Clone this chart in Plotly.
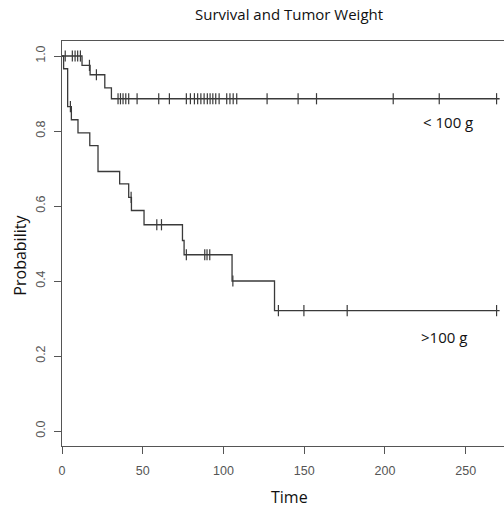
import numpy as np
import plotly.graph_objects as go

# Kaplan-Meier step data
low_times = [0, 12.4, 17.4, 26.5, 30.6, 271]
low_surv = [1.0, 0.975, 0.95, 0.915, 0.886, 0.886]
low_censor = [2, 6.4, 8.1, 9.7, 11.4, 17.0, 21.3, 34.7, 36.2, 37.8, 39.5, 41.3, 46.5,
              59.9, 66.5, 77, 79.5, 82, 84, 86, 88, 90, 91.7, 93.4, 95.2, 97.3,
              102, 104, 106, 108.2, 127, 146.2, 157.6, 205.1, 233.6, 269.1]

high_times = [0, 1.0, 3.5, 5.8, 9.9, 17.2, 22.3, 35.7, 41.3, 43.0, 50.8, 74.6, 75.6,
              105.3, 131.6, 271]
high_surv = [1.0, 0.966, 0.865, 0.830, 0.795, 0.761, 0.692, 0.659, 0.623, 0.588,
             0.550, 0.508, 0.470, 0.400, 0.321, 0.321]
high_censor = [5.2, 42.8, 58.7, 61.6, 77, 88.4, 89.8, 91.5, 105.8, 134, 149.8, 176.6, 269.1]

x_ticks = [0, 50, 100, 150, 200, 250]
y_ticks = [0.0, 0.2, 0.4, 0.6, 0.8, 1.0]
y_labels = ["0.0", "0.2", "0.4", "0.6", "0.8", "1.0"]

group_labels = ["< 100 g", ">100 g"]


def step_level(times, surv, t):
    idx = np.searchsorted(np.array(times), np.array(t), side="right") - 1
    return np.array(surv)[idx]


LC = "#3a3a3a"
fig = go.Figure()
for times, surv, cens in [(low_times, low_surv, low_censor), (high_times, high_surv, high_censor)]:
    fig.add_trace(go.Scatter(x=times, y=surv, mode="lines", line=dict(shape="hv", color=LC, width=1.3),
                             showlegend=False, hoverinfo="skip"))
    fig.add_trace(go.Scatter(x=cens, y=step_level(times, surv, cens), mode="markers",
                             marker=dict(symbol="line-ns", size=8, line=dict(color=LC, width=1.2)),
                             showlegend=False, hoverinfo="skip"))

label_font = dict(family="Open Sans", size=16, color="#111")
fig.update_layout(
    width=504, height=509,
    margin=dict(l=62, r=0, t=41, b=63),
    paper_bgcolor="white", plot_bgcolor="white",
    xaxis=dict(range=[0, 273.7], tickvals=x_ticks, ticks="outside", ticklen=7, tickcolor="#555",
               showline=True, linecolor="#555", linewidth=1.2, mirror=True, showgrid=False,
               zeroline=False, tickfont=dict(family="Liberation Sans", size=12.5, color="#555"),
               ticklabelstandoff=6),
    yaxis=dict(range=[-0.04, 1.04], tickvals=y_ticks, ticktext=y_labels, ticks="outside", ticklen=7,
               tickcolor="#555", showline=True, linecolor="#555", linewidth=1.2, showgrid=False,
               zeroline=False, tickangle=-90,
               tickfont=dict(family="Liberation Sans", size=12.5, color="#555"), ticklabelstandoff=4),
    annotations=[
        dict(text="Survival and Tumor Weight", x=0.514, y=1.067, xref="paper", yref="paper",
             xanchor="center", yanchor="middle", showarrow=False,
             font=dict(family="Open Sans", size=15, color="#111")),
        dict(text="Time", x=0.514, y=-0.126, xref="paper", yref="paper", xanchor="center",
             yanchor="middle", showarrow=False, font=label_font),
        dict(text="Probability", x=-0.095, y=0.47, xref="paper", yref="paper", xanchor="center",
             yanchor="middle", showarrow=False, textangle=-90, font=label_font),
        dict(text=group_labels[0], x=239, y=0.823, xref="x", yref="y", xanchor="center",
             yanchor="middle", showarrow=False, font=dict(family="Open Sans", size=15, color="#111")),
        dict(text=group_labels[1], x=236.5, y=0.25, xref="x", yref="y", xanchor="center",
             yanchor="middle", showarrow=False, font=dict(family="Open Sans", size=15, color="#111")),
    ],
)
fig.write_html("out.html", config={"displayModeBar": False},
               post_script="document.body.style.margin='0';document.body.style.overflow='hidden';")
